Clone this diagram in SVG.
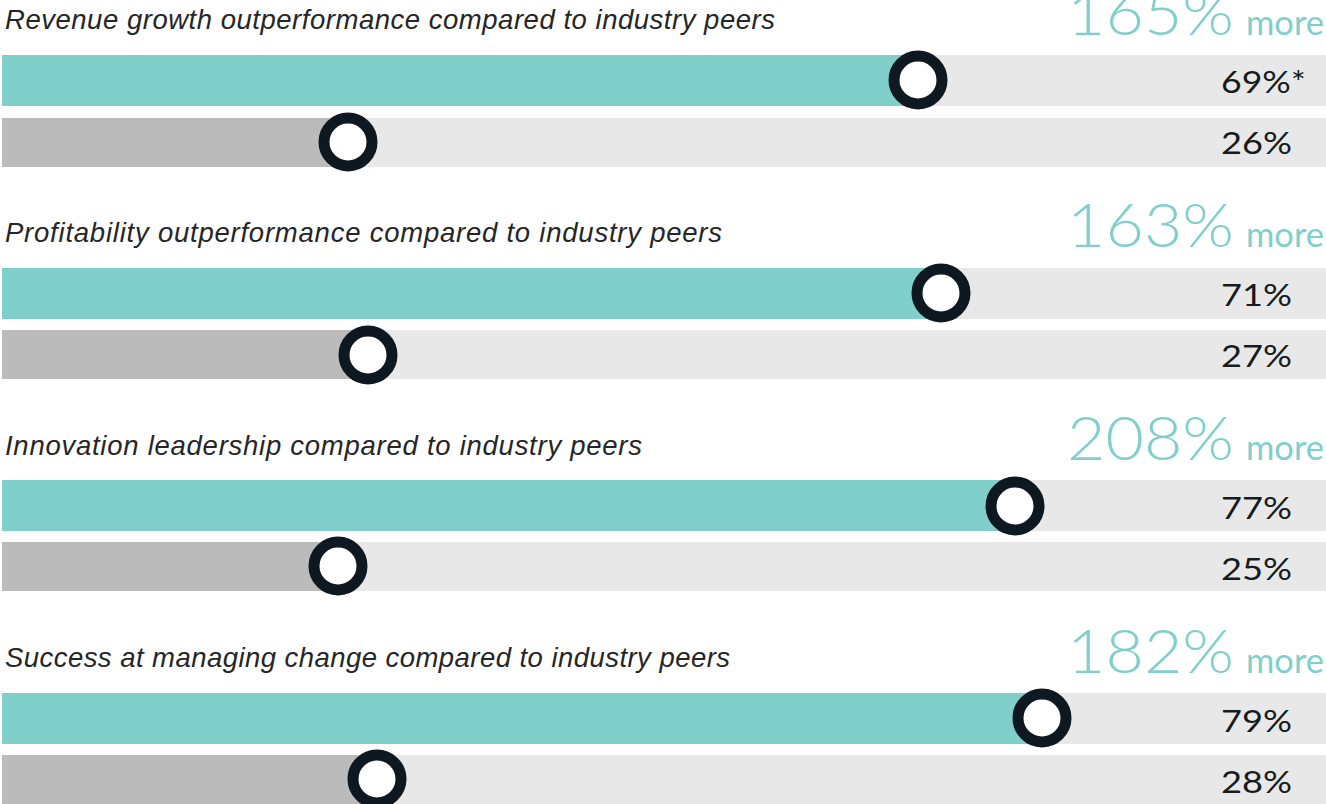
<svg xmlns="http://www.w3.org/2000/svg" width="1326" height="804" viewBox="0 0 1326 804">
<style>
.title{font-family:"Liberation Sans",Arial,sans-serif;font-style:italic;font-size:27.5px;fill:#262626}
.big{font-family:Lato,"Liberation Sans",sans-serif;font-weight:300;font-size:62px;fill:#80CFCB}
.more{font-family:Lato,"Liberation Sans",sans-serif;font-size:34px;fill:#80CFCB}
.pct{font-family:Lato,"Liberation Sans",sans-serif;font-size:31px;fill:#161B20}
.track{fill:#E8E8E8}
.teal{fill:#80CFCB}
.gray{fill:#BBBBBB}
.dot{fill:#FFFFFF;stroke:#0D1820;stroke-width:11}
</style>
<rect width="1326" height="804" fill="#FFFFFF"/>

<g id="group1">
<text class="title" x="5" y="29" textLength="770" lengthAdjust="spacing">Revenue growth outperformance compared to industry peers</text>
<text class="big" x="1067" y="35" textLength="167" lengthAdjust="spacingAndGlyphs">165%</text>
<text class="more" x="1246" y="35" textLength="78" lengthAdjust="spacingAndGlyphs">more</text>
<rect class="track" x="2" y="55" width="1324" height="51"/>
<rect class="teal" x="2" y="55" width="916" height="51"/>
<rect class="track" x="2" y="118" width="1324" height="49"/>
<rect class="gray" x="2" y="118" width="346" height="49"/>
<circle class="dot" cx="918" cy="80" r="24"/>
<circle class="dot" cx="348" cy="142" r="24"/>
<text class="pct" x="1221" y="93" textLength="85" lengthAdjust="spacingAndGlyphs">69%*</text>
<text class="pct" x="1221" y="154" textLength="71" lengthAdjust="spacingAndGlyphs">26%</text>
</g>

<g id="group2">
<text class="title" x="5" y="242" textLength="717" lengthAdjust="spacing">Profitability outperformance compared to industry peers</text>
<text class="big" x="1067" y="247" textLength="167" lengthAdjust="spacingAndGlyphs">163%</text>
<text class="more" x="1246" y="247" textLength="78" lengthAdjust="spacingAndGlyphs">more</text>
<rect class="track" x="2" y="268" width="1324" height="51"/>
<rect class="teal" x="2" y="268" width="939" height="51"/>
<rect class="track" x="2" y="330" width="1324" height="49"/>
<rect class="gray" x="2" y="330" width="366" height="49"/>
<circle class="dot" cx="941" cy="293" r="24"/>
<circle class="dot" cx="368" cy="355" r="24"/>
<text class="pct" x="1221" y="306" textLength="71" lengthAdjust="spacingAndGlyphs">71%</text>
<text class="pct" x="1221" y="367" textLength="71" lengthAdjust="spacingAndGlyphs">27%</text>
</g>

<g id="group3">
<text class="title" x="5" y="455" textLength="637" lengthAdjust="spacing">Innovation leadership compared to industry peers</text>
<text class="big" x="1067" y="460" textLength="167" lengthAdjust="spacingAndGlyphs">208%</text>
<text class="more" x="1246" y="460" textLength="78" lengthAdjust="spacingAndGlyphs">more</text>
<rect class="track" x="2" y="480" width="1324" height="51"/>
<rect class="teal" x="2" y="480" width="1013" height="51"/>
<rect class="track" x="2" y="542" width="1324" height="49"/>
<rect class="gray" x="2" y="542" width="336" height="49"/>
<circle class="dot" cx="1015" cy="506" r="24"/>
<circle class="dot" cx="338" cy="566" r="24"/>
<text class="pct" x="1221" y="519" textLength="71" lengthAdjust="spacingAndGlyphs">77%</text>
<text class="pct" x="1221" y="580" textLength="71" lengthAdjust="spacingAndGlyphs">25%</text>
</g>

<g id="group4">
<text class="title" x="5" y="667" textLength="725" lengthAdjust="spacing">Success at managing change compared to industry peers</text>
<text class="big" x="1067" y="673" textLength="167" lengthAdjust="spacingAndGlyphs">182%</text>
<text class="more" x="1246" y="673" textLength="78" lengthAdjust="spacingAndGlyphs">more</text>
<rect class="track" x="2" y="693" width="1324" height="51"/>
<rect class="teal" x="2" y="693" width="1040" height="51"/>
<rect class="track" x="2" y="755" width="1324" height="49"/>
<rect class="gray" x="2" y="755" width="375" height="49"/>
<circle class="dot" cx="1042" cy="718" r="24"/>
<circle class="dot" cx="377" cy="779" r="24"/>
<text class="pct" x="1221" y="732" textLength="71" lengthAdjust="spacingAndGlyphs">79%</text>
<text class="pct" x="1221" y="793" textLength="71" lengthAdjust="spacingAndGlyphs">28%</text>
</g>

<g id="connectors"></g>
</svg>
